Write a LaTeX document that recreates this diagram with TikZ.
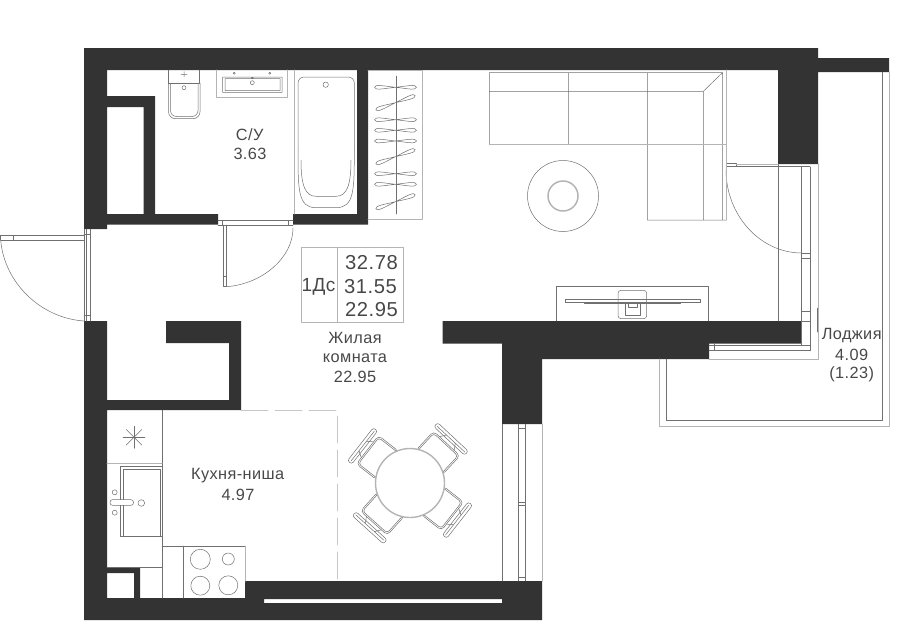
\documentclass[tikz,border=0pt]{standalone}
\usepackage{fontspec}
\setmainfont[LetterSpace=2.5]{Liberation Sans}
\definecolor{wallcol}{HTML}{333333}
\definecolor{textcol}{HTML}{484848}
\definecolor{thincol}{HTML}{707070}
\definecolor{palecol}{HTML}{B4B4B4}
\tikzset{
  thinline/.style={draw=thincol,line width=0.5pt},
  paleline/.style={draw=palecol,line width=1pt},
  roomlabel/.style={text=textcol,font=\fontsize{16.3}{18}\selectfont,inner sep=0pt},
  arealabel/.style={text=textcol,font=\fontsize{20.2}{22}\selectfont,inner sep=0pt},
}
\begin{document}
\begin{tikzpicture}[x=1pt,y=-1pt,line cap=round,line join=round]
\useasboundingbox (0,0) rectangle (900,621);
% walls
\fill[wallcol]
(84,48) rectangle (818,70)
(818,58) rectangle (889,72)
(84,48) rectangle (107,229)
(107,96) rectangle (155,107)
(143.5,96) rectangle (155,214)
(107,214) rectangle (218,224.5)
(293,214) rectangle (368,224.5)
(357,70) rectangle (368,224.5)
(778,70) rectangle (818,164)
(84,321) rectangle (107,620)
(166,321) rectangle (241,343)
(229,321) rectangle (241,410)
(107,400) rectangle (241,410)
(107,567) rectangle (140,573)
(134,567) rectangle (140,598)
(84,598) rectangle (264,620)
(245,581) rectangle (542,599)
(264,603) rectangle (542,620)
(502,599) rectangle (542,603)
(442.7,321) rectangle (801.5,343.7)
(502,343.7) rectangle (709,359)
(502,343.7) rectangle (542,424);
% loggia
\draw[paleline] (659,359) -- (659,426) -- (889,426) -- (889,72);
\draw[thinline] (666,359) -- (666,420) -- (882,420) -- (882,72);
% loggia glazing
\draw[paleline] (818,164) -- (818,359) -- (709,359);
\draw[thinline]
(778,164) -- (778,321)
(801.7,167) -- (801.7,345) -- (709,345)
(810,167) -- (810,350) -- (709,350)
(714,344) -- (714,350)
(801.7,253) -- (810,253)
(801.7,258) -- (810,258)
(801.7,311) -- (810,311)
(801.7,321) -- (810,321)
(801.7,345) -- (810,345)
(817.3,308) -- (817.3,332);
\draw[thinline] (726,163.5) rectangle (736,166.5);
\draw[paleline] (736,164) -- (778,164);
\draw[thinline] (736,166.5) -- (810,166.5);
\draw[thinline] (726,170) .. controls (726,215) and (760,253) .. (801.7,253);
% sofa
\draw[thinline]
(489.3,72.5) -- (722.7,72.5) -- (722.7,220)
(489.3,72.5) -- (489.3,144.5)
(568.3,72.5) -- (568.3,144.5)
(647.3,72.5) -- (647.3,220) -- (726,220)
(489.3,91.3) -- (703.3,91.3) -- (703.3,220)
(703.3,91.3) -- (722.7,72.5);
\draw[paleline] (726,70) -- (726,220) (489.3,144.5) -- (726,144.5);
% rug
\draw[thinline] (563,196) circle (35.5);
\draw[draw=palecol,line width=1.5pt] (563,196) circle (15);
% tv
\draw[thinline]
(556.3,321) -- (556.3,286.3) -- (708,286.3) -- (708,321)
(565,299.3) rectangle (700,302)
(584,302) rectangle (680,303.5)
(625,302) rectangle (640.7,315)
(628,302) rectangle (637,307);
\draw[thinline,rounded corners=3pt] (618,290.3) rectangle (646.7,318.7);
% wardrobe
\draw[paleline] (368,70) -- (422,70) -- (422,219.7) -- (368,219.7);
\draw[thinline] (396.3,76) -- (396.3,214);
\foreach \hy/\htilt in {87.3/0,102.7/20,119.7/0,130.3/0,141/0,156.7/20,173.7/0,184.3/0,201.7/20}
  \draw[thinline,shift={(395.5,\hy)},rotate=\htilt]
  (0,0) .. controls (-10,-1) and (-21,-3.5) .. (-21,0) .. controls (-21,3.5) and (-10,1) .. (0,0)
  .. controls (10,-1) and (21,-3.5) .. (21,0) .. controls (21,3.5) and (10,1) .. (0,0);
% bath
\draw[paleline] (294.7,70) -- (294.7,214);
\draw[thinline] (298,150) [rounded corners=6pt] -- (298,77) -- (354.3,77) -- (354.3,150);
\draw[thinline] (298,150) .. controls (298,190) and (298,207.7) .. (316,207.7) -- (336,207.7) .. controls (354.3,207.7) and (354.3,190) .. (354.3,150);
\draw[thinline] (301,160) .. controls (301,185) and (305,196.3) .. (316,196.3) -- (336,196.3) .. controls (347,196.3) and (351,185) .. (351,160);
\draw[thinline] (325.7,84.7) circle (2.7);
% basin
\draw[paleline] (216.7,70) -- (216.7,97.7) -- (287.7,97.7) -- (287.7,70);
\draw[thinline]
(222.7,77) rectangle (282,92.3)
(225,78.7) rectangle (280,90.7)
(252.3,82.7) circle (2)
(234.3,73.3) circle (1)
(269.7,73.3) circle (1)
(252.3,78) circle (0.8);
% wc
\draw[thinline] (168.5,70) -- (168.5,83) -- (199.5,83) -- (199.5,70);
\draw[thinline,rounded corners=7pt] (168.5,83) -- (168.5,118.7) -- (200,118.7) -- (200,83);
\draw[thinline,rounded corners=6pt] (170.5,84) -- (170.5,116.5) -- (198,116.5) -- (198,84);
\draw[thinline]
(184,87.7) circle (2)
(181,74.3) -- (187,74.3)
(184,71.5) -- (184,77);
% bath door
\draw[thinline]
(218,220.7) -- (293,220.7)
(218,225) -- (293,225)
(223,225) -- (223,286.7) -- (226.7,286.7) -- (226.7,225)
(223,276) -- (226.7,276)
(222,220.7) -- (222,225)
(288,220.7) -- (288,225);
\draw[thinline] (293,228) .. controls (293,258) and (262,284) .. (226.7,286.7);
% entrance door
\draw[thinline]
(84,229) -- (84,321)
(86.5,229) -- (86.5,321)
(90,229) -- (90,321)
(84,315) -- (90,315)
(84,234) -- (90,234)
(0.7,235.3) -- (84,235.3)
(0.7,240) -- (84,240)
(0.7,235.3) -- (0.7,240)
(13.3,235.3) -- (13.3,240);
\draw[thinline] (0.7,240) .. controls (4,282) and (40,318) .. (84,321);
% kitchen
\draw[draw=palecol!75,line width=0.8pt,dash pattern=on 27pt off 7pt] (241,410) -- (337,410) -- (337,581);
\draw[thinline]
(162,410) -- (162,598)
(107,567) -- (162,567)
(162,546) -- (245,546)
(183,546) -- (183,598)
(120.5,536.5) -- (162,536.5);
\draw[paleline] (107,463.5) -- (162,463.5) (245,546) -- (245,581);
\draw[thinline]
(120.5,536.5) -- (120.5,466.5) -- (162,466.5)
(123.5,536.5) -- (123.5,469) -- (160,469) -- (160,536.5);
\fill[white] (110,499.7) rectangle (133.5,505.3);
\draw[thinline,rounded corners=2.5pt] (110,499.7) rectangle (133.5,505.3);
\draw[thinline]
(114.7,492.3) circle (2.5)
(114.7,512.7) circle (2.5)
(141.3,503) circle (3.3)
(200.3,559.3) circle (10)
(228.3,559) circle (6)
(200.3,585.7) circle (9.5)
(228.3,585.3) circle (9.5);
\foreach \starang in {0,45,90,135}
  \draw[thinline] (134,437.3) ++(\starang:11) -- ++(\starang+180:22);
% dining
\foreach \chairang in {47,142,228,322} {
  \begin{scope}[shift={(410,483)},rotate=\chairang]
  \draw[thinline,rounded corners=4pt] (28,-18) rectangle (54,18);
  \draw[thinline,rounded corners=3pt] (28,-16.5) rectangle (52.5,16.5);
  \draw[thinline,rounded corners=2.5pt] (57.5,-21) rectangle (63,21);
  \draw[thinline] (60,-19) -- (60,19) (54,-10) -- (60,-6) (54,10) -- (60,6);
  \end{scope}
}
\fill[white] (410,483) circle (34.5);
\draw[draw=palecol,line width=1.4pt] (410,483) circle (34.5);
% dining window
\draw[thinline]
(502.3,424) -- (502.3,581)
(518.3,424) -- (518.3,581)
(525.5,424) -- (525.5,581)
(518.3,428) -- (525.5,428)
(518.3,502) -- (525.5,502)
(518.3,505) -- (525.5,505)
(518.3,577) -- (525.5,577);
\draw[paleline] (542.3,424) -- (542.3,581);
% info box
\draw[paleline,line width=0.8pt]
(301,247.3) rectangle (403.3,322.7)
(337.7,247.3) -- (337.7,322.7);
\node[arealabel,font=\fontsize{19}{20}\selectfont] (flattype) at (318.5,287) {1Дс};
\node[arealabel] (totalarea) at (371.5,263) {32.78};
\node[arealabel] (nettarea) at (370.5,286.3) {31.55};
\node[arealabel] (livearea) at (371.5,309.7) {22.95};
% room labels
\node[roomlabel] (bathname) at (249.7,135) {С/У};
\node[roomlabel] (batharea) at (250,154) {3.63};
\node[roomlabel] (roomname) at (355,338) {Жилая};
\node[roomlabel] (roomname2) at (355,357.7) {комната};
\node[roomlabel] (roomarea) at (355,376.7) {22.95};
\node[roomlabel] (kitchenname) at (237.7,475.3) {Кухня-ниша};
\node[roomlabel] (kitchenarea) at (238,494.7) {4.97};
\node[roomlabel] (loggianame) at (851.7,335.7) {Лоджия};
\node[roomlabel] (loggiaarea) at (851.7,354.7) {4.09};
\node[roomlabel] (loggiaarea2) at (851.7,374) {(1.23)};
\end{tikzpicture}
\end{document}
